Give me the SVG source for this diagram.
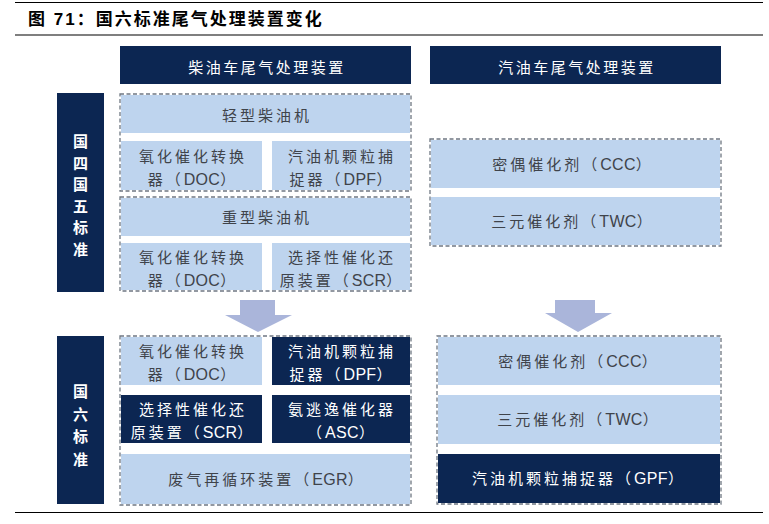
<svg xmlns="http://www.w3.org/2000/svg" width="769" height="524" viewBox="0 0 769 524">
<style>
.navy{fill:#0C2652}
.light{fill:#BED4EE}
.grp{fill:none;stroke:#6F7782;stroke-width:1.3;stroke-dasharray:4 2.5}
.arrow{fill:#AAB5DA}
text{font-family:"Liberation Sans","Noto Sans CJK SC",sans-serif}
.t{font-size:15px;fill:#3F434A;text-anchor:middle;letter-spacing:3px}
.w{font-size:15px;fill:#FFFFFF;text-anchor:middle;letter-spacing:3px}
.h{font-size:15px;fill:#FFFFFF;text-anchor:middle;letter-spacing:2.5px}
.v{font-size:15px;fill:#FFFFFF;text-anchor:middle;font-weight:bold}
.l{font-size:16px;letter-spacing:0.3px}
.title{font-size:17px;font-weight:bold;fill:#000000;letter-spacing:2px}
.rule{stroke:#000000;stroke-width:1.2}
</style>
<rect width="769" height="524" fill="#FFFFFF"/>
<g id="frame">
<line class="rule" x1="15" y1="2.5" x2="763" y2="2.5"/>
<line class="rule" x1="15" y1="35" x2="763" y2="35"/>
<line class="rule" x1="15" y1="512.5" x2="763" y2="512.5"/>
<text class="title" x="28" y="25">图 71：国六标准尾气处理装置变化</text>
</g>
<g id="header-diesel">
<rect class="navy" x="120" y="46" width="291" height="38"/>
<text class="h" x="267" y="73">柴油车尾气处理装置</text>
</g>
<g id="header-gasoline">
<rect class="navy" x="430" y="46" width="291" height="38"/>
<text class="h" x="577" y="73">汽油车尾气处理装置</text>
</g>
<g id="label-guo45">
<rect class="navy" x="57" y="93" width="47" height="199"/>
<text class="v" x="80.5" y="147">国<tspan x="80.5" dy="21.5">四</tspan><tspan x="80.5" dy="21.5">国</tspan><tspan x="80.5" dy="21.5">五</tspan><tspan x="80.5" dy="21.5">标</tspan><tspan x="80.5" dy="21.5">准</tspan></text>
</g>
<g id="label-guo6">
<rect class="navy" x="57" y="336" width="47" height="168"/>
<text class="v" x="80.5" y="397">国<tspan x="80.5" dy="22.5">六</tspan><tspan x="80.5" dy="22.5">标</tspan><tspan x="80.5" dy="22.5">准</tspan></text>
</g>
<g id="light-diesel">
<rect class="light" x="121" y="95" width="289" height="38"/>
<text class="t" x="267" y="121">轻型柴油机</text>
<rect class="light" x="121" y="141" width="141" height="49"/>
<text class="t" x="193" y="162">氧化催化转换</text>
<text class="t" x="193" y="185">器（<tspan class="l">DOC</tspan>）</text>
<rect class="light" x="272" y="141" width="138" height="49"/>
<text class="t" x="342" y="162">汽油机颗粒捕</text>
<text class="t" x="342" y="185">捉器（<tspan class="l">DPF</tspan>）</text>
<rect class="grp" x="120" y="94" width="291" height="97"/>
</g>
<g id="heavy-diesel">
<rect class="light" x="121" y="198" width="289" height="38"/>
<text class="t" x="267" y="223">重型柴油机</text>
<rect class="light" x="121" y="243" width="141" height="47"/>
<text class="t" x="193" y="263">氧化催化转换</text>
<text class="t" x="193" y="286">器（<tspan class="l">DOC</tspan>）</text>
<rect class="light" x="272" y="243" width="138" height="47"/>
<text class="t" x="342" y="263">选择性催化还</text>
<text class="t" x="342" y="286">原装置（<tspan class="l">SCR</tspan>）</text>
<rect class="grp" x="120" y="197" width="291" height="94"/>
</g>
<g id="guo6-diesel">
<rect class="light" x="121" y="337" width="141" height="48"/>
<text class="t" x="193" y="357">氧化催化转换</text>
<text class="t" x="193" y="380">器（<tspan class="l">DOC</tspan>）</text>
<rect class="navy" x="272" y="337" width="138" height="48"/>
<text class="w" x="342" y="357">汽油机颗粒捕</text>
<text class="w" x="342" y="380">捉器（<tspan class="l">DPF</tspan>）</text>
<rect class="navy" x="121" y="395" width="141" height="48"/>
<text class="w" x="193" y="415">选择性催化还</text>
<text class="w" x="193" y="438">原装置（<tspan class="l">SCR</tspan>）</text>
<rect class="navy" x="272" y="395" width="138" height="48"/>
<text class="w" x="342" y="415">氨逃逸催化器</text>
<text class="w" x="342" y="438">（<tspan class="l">ASC</tspan>）</text>
<rect class="light" x="121" y="454" width="289" height="50"/>
<text class="t" x="267" y="485">废气再循环装置（<tspan class="l">EGR</tspan>）</text>
<rect class="grp" x="120" y="336" width="291" height="169"/>
</g>
<g id="guo45-gasoline">
<rect class="light" x="431" y="140" width="289" height="48"/>
<text class="t" x="573" y="170">密偶催化剂（<tspan class="l">CCC</tspan>）</text>
<rect class="light" x="431" y="197" width="289" height="48"/>
<text class="t" x="573" y="227">三元催化剂（<tspan class="l">TWC</tspan>）</text>
<rect class="grp" x="430" y="139" width="291" height="107"/>
</g>
<g id="guo6-gasoline">
<rect class="light" x="438" y="337" width="282" height="48"/>
<text class="t" x="579" y="367">密偶催化剂（<tspan class="l">CCC</tspan>）</text>
<rect class="light" x="438" y="395" width="282" height="49"/>
<text class="t" x="579" y="425">三元催化剂（<tspan class="l">TWC</tspan>）</text>
<rect class="navy" x="438" y="454" width="282" height="49"/>
<text class="w" x="579" y="484">汽油机颗粒捕捉器（<tspan class="l">GPF</tspan>）</text>
<rect class="grp" x="437" y="336" width="284" height="168"/>
</g>
<g id="connectors">
<polygon class="arrow" points="240,300 275,300 275,315 292,315 258,332 225,315 240,315"/>
<polygon class="arrow" points="555,300 595,300 595,313 612,313 578,332 545,313 555,313"/>
</g>
</svg>
